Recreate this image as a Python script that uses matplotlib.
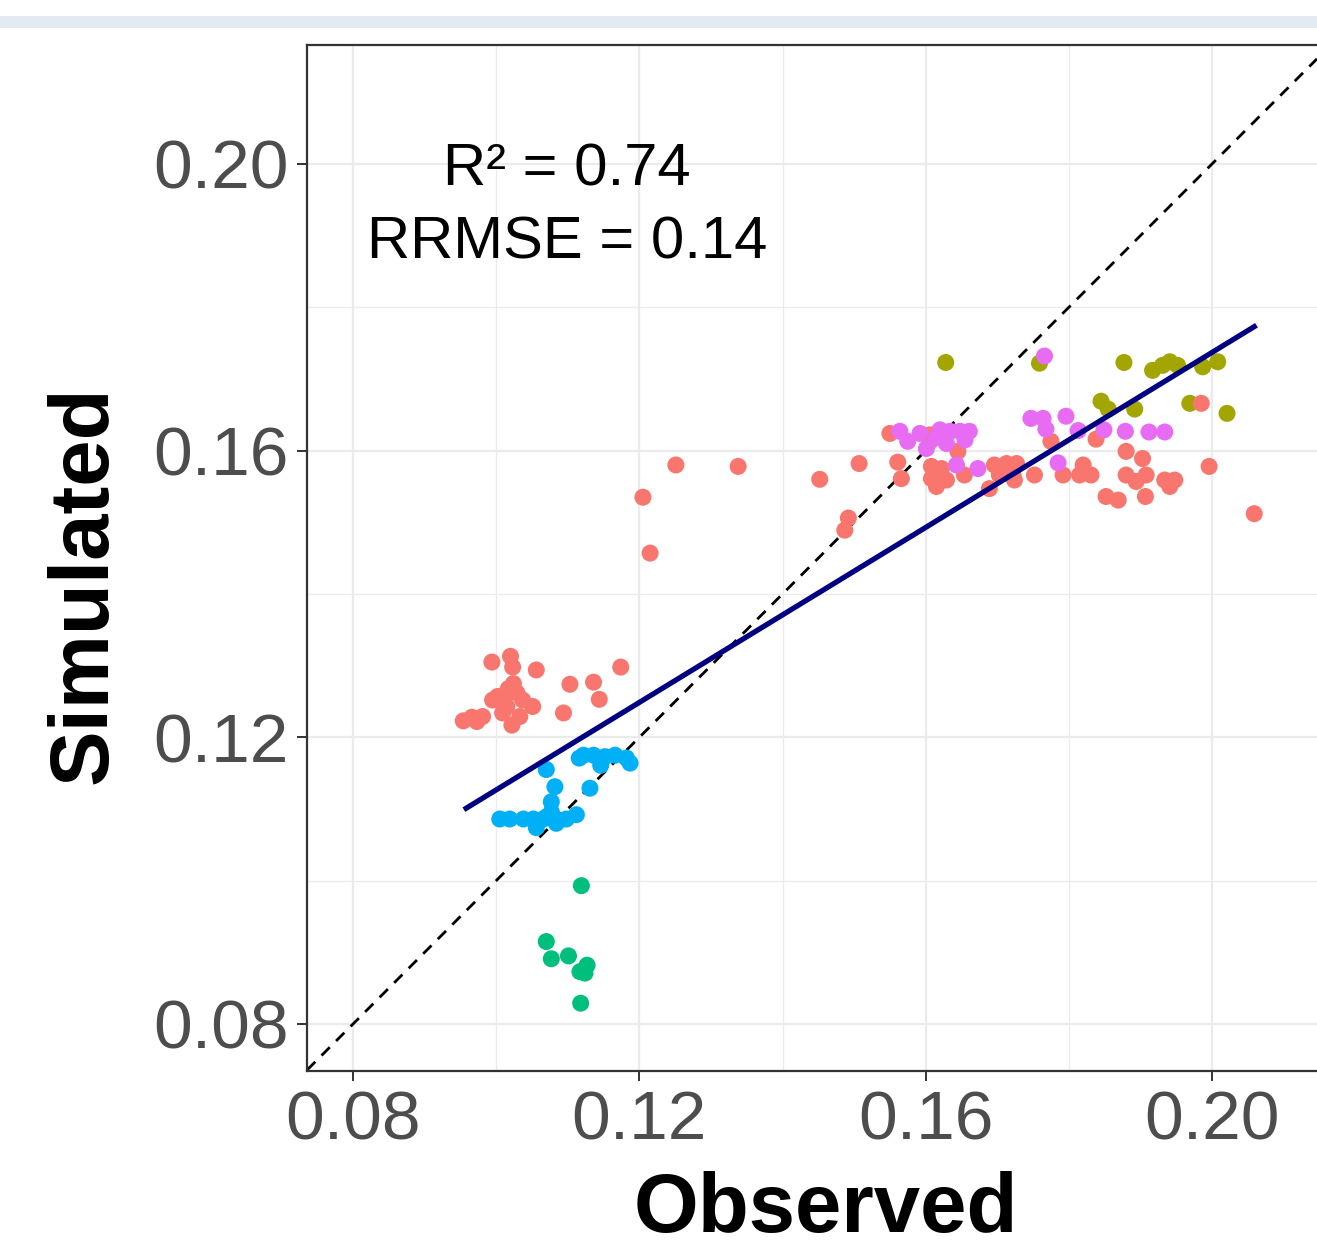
import numpy as np
import matplotlib
matplotlib.use("Agg")
import matplotlib.pyplot as plt
from matplotlib.patches import Rectangle

plt.rcParams['font.family'] = ['Liberation Sans', 'DejaVu Sans']

# observed / simulated values per group
obs_salmon = [0.0994, 0.1020, 0.1023, 0.1056, 0.1174, 0.1103, 0.1136, 0.1144, 0.1094,
              0.1024, 0.1002, 0.1029, 0.1037, 0.1051, 0.1015, 0.1022, 0.0995, 0.0981,
              0.0966, 0.0954, 0.0973, 0.1033, 0.1009, 0.1017, 0.1010,
              0.1251, 0.1338, 0.1205, 0.1215, 0.1452, 0.1492, 0.1487, 0.1507,
              0.1550, 0.1606, 0.1606, 0.1645, 0.1561, 0.1566, 0.1608, 0.1622, 0.1608,
              0.1629, 0.1615, 0.1654,
              0.1696, 0.1713, 0.1727, 0.1703, 0.1689, 0.1722, 0.1752, 0.1724,
              0.1775, 0.1838, 0.1880, 0.1903, 0.1792, 0.1815, 0.1820, 0.1831, 0.1880,
              0.1894, 0.1908, 0.1934, 0.1948, 0.1941, 0.1852, 0.1869, 0.1907, 0.1996,
              0.2059, 0.1985]
sim_salmon = [0.1305, 0.1313, 0.1298, 0.1294, 0.1298, 0.1274, 0.1277, 0.1253, 0.1234,
              0.1275, 0.1257, 0.1262, 0.1252, 0.1243, 0.1243, 0.1217, 0.1252, 0.1229,
              0.1228, 0.1223, 0.1222, 0.1229, 0.1234, 0.1268, 0.1250,
              0.1580, 0.1578, 0.1535, 0.1457, 0.1560, 0.1506, 0.1489, 0.1582,
              0.1624, 0.1622, 0.1613, 0.1599, 0.1584, 0.1561, 0.1578, 0.1575, 0.1561,
              0.1559, 0.1550, 0.1566,
              0.1580, 0.1582, 0.1582, 0.1566, 0.1547, 0.1566, 0.1566, 0.1559,
              0.1613, 0.1616, 0.1599, 0.1589, 0.1566, 0.1566, 0.1580, 0.1566, 0.1566,
              0.1557, 0.1566, 0.1559, 0.1559, 0.1550, 0.1536, 0.1531, 0.1536, 0.1578,
              0.1512, 0.1666]

obs_pink = [0.1766, 0.1564, 0.1575, 0.1592, 0.1620, 0.1634, 0.1648, 0.1661, 0.1629,
            0.1601, 0.1643, 0.1673, 0.1747, 0.1764, 0.1796, 0.1768, 0.1813, 0.1849,
            0.1879, 0.1912, 0.1934, 0.1785, 0.1615, 0.1655]
sim_pink = [0.1732, 0.1627, 0.1613, 0.1624, 0.1629, 0.1627, 0.1627, 0.1627, 0.1610,
            0.1603, 0.1580, 0.1575, 0.1645, 0.1645, 0.1648, 0.1630, 0.1628, 0.1629,
            0.1627, 0.1626, 0.1626, 0.1583, 0.1618, 0.1615]

obs_olive = [0.1628, 0.1759, 0.1877, 0.1917, 0.1931, 0.1941, 0.1952, 0.1987, 0.2008,
             0.1845, 0.1855, 0.1892, 0.1969, 0.2021]
sim_olive = [0.1723, 0.1722, 0.1723, 0.1712, 0.1719, 0.1724, 0.1719, 0.1717, 0.1724,
             0.1669, 0.1658, 0.1658, 0.1666, 0.1652]

obs_green = [0.1119, 0.1070, 0.1077, 0.1101, 0.1117, 0.1127, 0.1124, 0.1118]
sim_green = [0.0993, 0.0915, 0.0891, 0.0895, 0.0873, 0.0882, 0.0871, 0.0829]

obs_blue = [0.1070, 0.1122, 0.1136, 0.1152, 0.1166, 0.1182, 0.1187, 0.1146, 0.1116,
            0.1082, 0.1131, 0.1077, 0.1077, 0.1005, 0.1019, 0.1038, 0.1052, 0.1066,
            0.1084, 0.1098, 0.1112, 0.1056, 0.1084, 0.1070]
sim_blue = [0.1155, 0.1175, 0.1175, 0.1173, 0.1175, 0.1171, 0.1164, 0.1161, 0.1171,
            0.1131, 0.1129, 0.1110, 0.1096, 0.1086, 0.1086, 0.1086, 0.1086, 0.1086,
            0.1086, 0.1086, 0.1092, 0.1074, 0.1080, 0.1089]

# ends of the fitted regression line, as drawn in the reference
fit_obs = [0.0958, 0.2059]
fit_sim = [0.1101, 0.1773]

ticks = [0.08, 0.12, 0.16, 0.20]
tick_labels = ["0.08", "0.12", "0.16", "0.20"]
minor_ticks = [0.10, 0.14, 0.18]
stats_text = "R\u00b2 = 0.74\nRRMSE = 0.14"

groups = [
    (obs_olive, sim_olive, "#A3A500"),
    (obs_salmon, sim_salmon, "#F8766D"),
    (obs_pink, sim_pink, "#E76BF3"),
    (obs_green, sim_green, "#00BF7D"),
    (obs_blue, sim_blue, "#00B0F6"),
]

W, H = 1317, 1254
fig = plt.figure(figsize=(W / 100, H / 100), dpi=100)

# light band across the top of the picture
fig.patches.append(Rectangle((0, 1 - 28 / H), 1, 12 / H, transform=fig.transFigure,
                             facecolor="#e3eaf2", edgecolor="none"))

ax = fig.add_axes([307 / W, (H - 1071) / H, (W - 307) / W, (1071 - 45) / H])
ax.set_xlim(0.07357, 0.21467)
ax.set_ylim(0.07344, 0.21660)

ax.set_xticks(ticks)
ax.set_xticklabels(tick_labels)
ax.set_yticks(ticks)
ax.set_yticklabels(tick_labels)
ax.set_xticks(minor_ticks, minor=True)
ax.set_yticks(minor_ticks, minor=True)
ax.grid(True, which="major", color="#ebebeb", linewidth=1.6, zorder=0)
ax.grid(True, which="minor", color="#ebebeb", linewidth=0.9, zorder=0)
ax.set_axisbelow(True)
ax.tick_params(which="minor", length=0)
ax.tick_params(which="major", length=7, width=1.4, color="#333333",
               labelsize=50, labelcolor="#4d4d4d", pad=6)

for side in ["left", "top", "bottom"]:
    ax.spines[side].set_color("#333333")
    ax.spines[side].set_linewidth(1.6)
ax.spines["right"].set_visible(False)

# 1:1 line
ax.axline((0.08, 0.08), slope=1, color="black", linestyle=(0, (4.2, 3.2)),
          linewidth=2.0, zorder=2)

for xs, ys, col in groups:
    ax.scatter(xs, ys, s=150, color=col, edgecolors="none", zorder=3)

ax.plot(fit_obs, fit_sim, color="#000080", linewidth=3.8, zorder=4)

ax.text(0.1099, 0.1940, stats_text, ha="center", va="center", fontsize=43,
        color="black", linespacing=1.42, zorder=5)

fig.text(826 / W, 1 - 1210 / H, "Observed", ha="center", va="center",
         fontsize=60, fontweight="bold")
fig.text(85 / W, 1 - 585 / H, "Simulated", ha="center", va="center",
         fontsize=60, fontweight="bold", rotation=90)

fig.savefig("out.png", dpi=100)
